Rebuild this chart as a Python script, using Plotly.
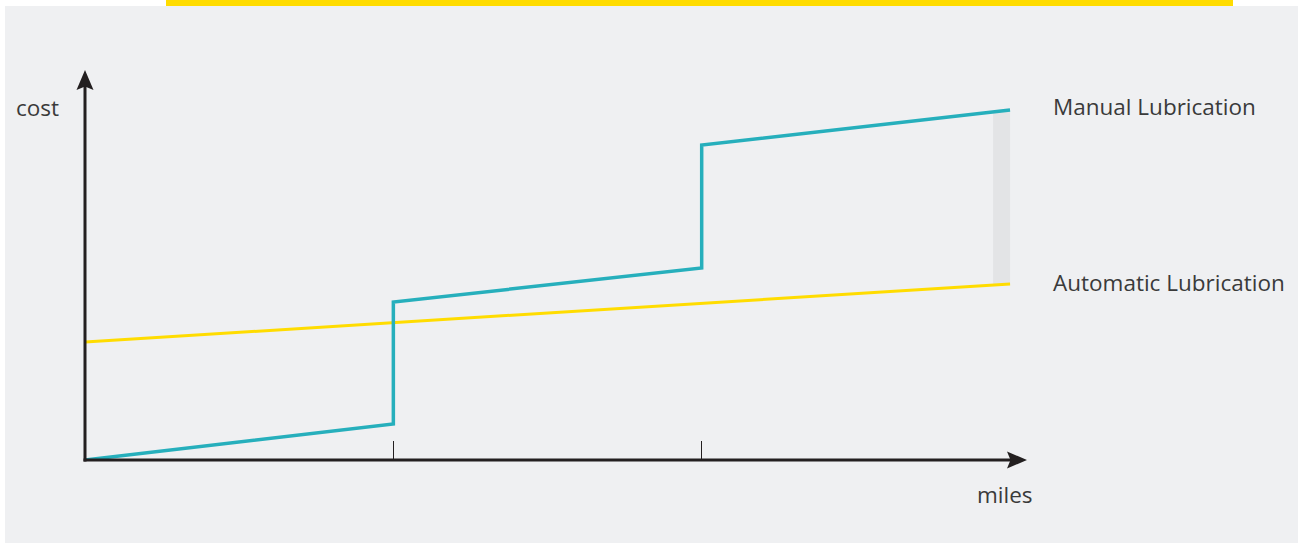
import numpy as np
import plotly.graph_objects as go

# ---- data ----
manual_miles = [0, 1, 1, 2, 2, 3]
manual_cost = [0, 3.6, 15.8, 19.2, 31.5, 35.0]
auto_miles = [0, 3]
auto_cost = [11.8, 17.6]
tick_miles = [1, 2]
band_start = 2.945
label_manual = "Manual Lubrication"
label_auto = "Automatic Lubrication"

W, H = 1303, 544
L, R, T, B = 85, 1303 - 1027, 70, 544 - 460
XMAX, YMAX = 3.055, 39.0
pw, ph = W - L - R, H - T - B

def px(x):
    return (x - L) / pw

def py(y):
    return (H - B - y) / ph

TEAL = "#26afbc"
YELLOW = "#ffdc00"
TXT = "#3a3a3a"
AX = "#231f20"
FONT = "Open Sans"
FS = 22.5

fig = go.Figure()

# gray gap band
bx = [band_start, manual_miles[-1]]
top = [float(np.interp(v, manual_miles[3:], manual_cost[3:])) for v in bx]
bot = [float(np.interp(v, auto_miles, auto_cost)) for v in bx]
fig.add_trace(go.Scatter(x=bx + bx[::-1], y=top + bot[::-1], fill="toself",
                         fillcolor="#e3e4e6", line=dict(width=0), mode="lines",
                         hoverinfo="skip", showlegend=False))

fig.add_trace(go.Scatter(x=auto_miles, y=auto_cost, mode="lines",
                         line=dict(color=YELLOW, width=3), showlegend=False))
fig.add_trace(go.Scatter(x=manual_miles, y=manual_cost, mode="lines",
                         line=dict(color=TEAL, width=3.5), showlegend=False))

shapes = [
    dict(type="rect", xref="paper", yref="paper", x0=px(5), x1=px(1298),
         y0=py(543), y1=py(6), fillcolor="#eff0f2", line=dict(width=0), layer="below"),
    dict(type="rect", xref="paper", yref="paper", x0=px(166), x1=px(1233),
         y0=py(6), y1=py(-2), fillcolor=YELLOW, line=dict(width=0), layer="below"),
    # axis lines (paper refs so they are not clipped at the plot edge)
    dict(type="line", xref="paper", yref="paper", x0=px(83.5), y0=0, x1=px(1012), y1=0,
         line=dict(color=AX, width=3), layer="above"),
    dict(type="line", xref="paper", yref="paper", x0=0, y0=py(461.5), x1=0, y1=py(85),
         line=dict(color=AX, width=3), layer="above"),
    # arrowheads (pixel-sized, anchored at axis ends)
    dict(type="path", xref="paper", yref="paper", xsizemode="pixel", ysizemode="pixel",
         xanchor=1, yanchor=0, path="M 0,0 L -20,8.5 L -16.5,0 L -20,-8.5 Z",
         fillcolor=AX, line=dict(width=0), layer="above"),
    dict(type="path", xref="paper", yref="paper", xsizemode="pixel", ysizemode="pixel",
         xanchor=0, yanchor=1, path="M 0,0 L -8.5,-20 L 0,-16.5 L 8.5,-20 Z",
         fillcolor=AX, line=dict(width=0), layer="above"),
]

annotations = [
    dict(x=px(61), y=py(107), xref="paper", yref="paper", text="cost",
         showarrow=False, xanchor="right", yanchor="middle",
         font=dict(family=FONT, size=FS, color=TXT)),
    dict(x=px(1005), y=py(495), xref="paper", yref="paper", text="miles",
         showarrow=False, xanchor="center", yanchor="middle",
         font=dict(family=FONT, size=FS, color=TXT)),
    dict(x=px(1051), y=py(106), xref="paper", yref="paper", text=label_manual,
         showarrow=False, xanchor="left", yanchor="middle",
         font=dict(family=FONT, size=FS, color=TXT)),
    dict(x=px(1051), y=py(282), xref="paper", yref="paper", text=label_auto,
         showarrow=False, xanchor="left", yanchor="middle",
         font=dict(family=FONT, size=FS, color=TXT)),
]

fig.update_layout(
    width=W, height=H,
    margin=dict(l=L, r=R, t=T, b=B, pad=0),
    paper_bgcolor="white", plot_bgcolor="rgba(0,0,0,0)",
    shapes=shapes, annotations=annotations,
    xaxis=dict(range=[0, XMAX], showgrid=False, zeroline=False, showline=False,
               tickvals=tick_miles, ticktext=["", ""], ticks="inside",
               ticklen=19, tickwidth=1.2, tickcolor=AX, fixedrange=True),
    yaxis=dict(range=[0, YMAX], showgrid=False, zeroline=False, showline=False,
               showticklabels=False, ticks="", fixedrange=True),
    showlegend=False,
)

fig.write_html("out.html")
